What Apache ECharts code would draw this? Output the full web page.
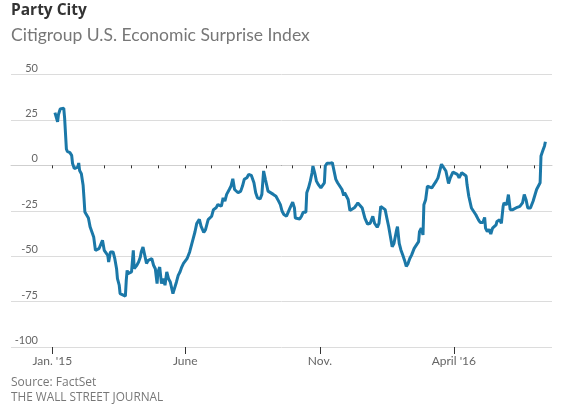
<!DOCTYPE html>
<html><head><meta charset="utf-8">
<script src="https://cdn.jsdelivr.net/npm/echarts@6/dist/echarts.min.js"></script>
<style>html,body{margin:0;padding:0;background:#fff}#c{width:561px;height:410px}</style>
</head><body><div id="c"></div>
<script>
const dates = [
'2015-01-04','2015-01-05','2015-01-07','2015-01-08','2015-01-10','2015-01-12','2015-01-14','2015-01-15','2015-01-17','2015-01-18',
'2015-01-21','2015-01-23','2015-01-24','2015-01-26','2015-01-28','2015-01-30','2015-01-31','2015-02-01','2015-02-03','2015-02-05',
'2015-02-06','2015-02-07','2015-02-09','2015-02-11','2015-02-13','2015-02-15','2015-02-17','2015-02-19','2015-02-20','2015-02-23',
'2015-02-25','2015-02-27','2015-03-01','2015-03-03','2015-03-05','2015-03-06','2015-03-08','2015-03-10','2015-03-11','2015-03-13',
'2015-03-15','2015-03-16','2015-03-18','2015-03-19','2015-03-21','2015-03-25','2015-03-26','2015-03-27','2015-03-28','2015-03-30',
'2015-04-01','2015-04-03','2015-04-04','2015-04-07','2015-04-09','2015-04-11','2015-04-12','2015-04-14','2015-04-16','2015-04-18',
'2015-04-20','2015-04-22','2015-04-24','2015-04-26','2015-04-28','2015-04-30','2015-05-01','2015-05-03','2015-05-05','2015-05-07',
'2015-05-09','2015-05-11','2015-05-13','2015-05-15','2015-05-17','2015-05-18','2015-05-20','2015-05-22','2015-05-24','2015-05-26',
'2015-05-28','2015-05-30','2015-06-03','2015-06-06','2015-06-10','2015-06-12','2015-06-14','2015-06-17','2015-06-19','2015-06-22',
'2015-06-24','2015-06-27','2015-07-01','2015-07-03','2015-07-06','2015-07-08','2015-07-10','2015-07-12','2015-07-14','2015-07-16',
'2015-07-18','2015-07-21','2015-07-23','2015-07-25','2015-07-27','2015-07-29','2015-07-31','2015-08-03','2015-08-05','2015-08-07',
'2015-08-10','2015-08-12','2015-08-13','2015-08-15','2015-08-18','2015-08-20','2015-08-22','2015-08-25','2015-08-27','2015-08-29',
'2015-08-31','2015-09-01','2015-09-03','2015-09-05','2015-09-09','2015-09-12','2015-09-15','2015-09-17','2015-09-19','2015-09-21',
'2015-09-24','2015-09-26','2015-09-28','2015-10-01','2015-10-03','2015-10-04','2015-10-06','2015-10-09','2015-10-11','2015-10-13',
'2015-10-15','2015-10-16','2015-10-17','2015-10-19','2015-10-21','2015-10-23','2015-10-24','2015-10-26','2015-10-28','2015-10-30',
'2015-11-02','2015-11-04','2015-11-06','2015-11-07','2015-11-09','2015-11-12','2015-11-14','2015-11-15','2015-11-17','2015-11-19',
'2015-11-21','2015-11-23','2015-11-26','2015-11-28','2015-11-29','2015-12-01','2015-12-03','2015-12-05','2015-12-07','2015-12-10',
'2015-12-12','2015-12-14','2015-12-16','2015-12-19','2015-12-22','2015-12-25','2015-12-28','2015-12-31','2016-01-02','2016-01-05',
'2016-01-07','2016-01-09','2016-01-11','2016-01-14','2016-01-16','2016-01-18','2016-01-20','2016-01-22','2016-01-24','2016-01-27',
'2016-01-28','2016-01-30','2016-02-01','2016-02-03','2016-02-05','2016-02-07','2016-02-09','2016-02-11','2016-02-13','2016-02-16',
'2016-02-18','2016-02-21','2016-02-22','2016-02-24','2016-02-26','2016-02-27','2016-02-29','2016-03-02','2016-03-04','2016-03-07',
'2016-03-09','2016-03-12','2016-03-14','2016-03-16','2016-03-18','2016-03-20','2016-03-23','2016-03-26','2016-03-28','2016-03-31',
'2016-04-02','2016-04-05','2016-04-07','2016-04-10','2016-04-12','2016-04-15','2016-04-16','2016-04-18','2016-04-21','2016-04-23',
'2016-04-26','2016-04-29','2016-05-01','2016-05-04','2016-05-06','2016-05-07','2016-05-09','2016-05-11','2016-05-13','2016-05-15',
'2016-05-17','2016-05-19','2016-05-20','2016-05-23','2016-05-25','2016-05-27','2016-05-28','2016-05-31','2016-06-02','2016-06-04',
'2016-06-07','2016-06-09','2016-06-12','2016-06-15','2016-06-18','2016-06-20','2016-06-22','2016-06-24','2016-06-27','2016-06-30',
'2016-07-02','2016-07-04','2016-07-06','2016-07-08','2016-07-09','2016-07-11','2016-07-13','2016-07-14'
];
const values = [
29,28,24,28,31,31.5,31.5,26,9,7.7,
7,5.5,1,-1.8,-2.8,-1,1.3,-2.8,-4.6,-11,
-18,-25.7,-26.6,-29,-34,-36.7,-39.4,-46.8,-47.7,-45.9,
-45,-41.3,-46.8,-47.7,-49.5,-53.2,-47.7,-46.8,-47.7,-51.4,
-56.9,-62.4,-66,-70.6,-71.6,-72,-63.3,-57.8,-59.6,-60.6,
-58.7,-46.8,-56.9,-55,-53.2,-50.5,-47.7,-45,-49.5,-54,
-52.3,-53.2,-51.4,-55,-56.9,-65.1,-58.7,-56,-65.1,-62.4,
-66,-58.7,-62.4,-64.2,-63.3,-70.6,-71.2,-64.2,-60.6,-58.7,
-56,-54,-51.4,-47.7,-40.4,-36.7,-32.1,-29.7,-33.6,-36.9,
-35.4,-29.9,-28,-24.4,-23.4,-21.6,-20.7,-22.5,-17.9,-19.7,
-16,-13.3,-11.4,-7.4,-13.3,-12.4,-15.1,-14.2,-11.4,-7.7,
-6.8,-5,-4.1,-5.5,-9.6,-15.1,-17.9,-18.5,-16,-3.1,
-7.7,-8.7,-14.2,-15.1,-16,-17,-19.7,-21.6,-25.3,-27.1,
-28,-27.1,-23.4,-20.3,-23.4,-29,-29.9,-29.5,-28,-25.8,
-24.7,-25.8,-15.1,-12.4,-8.7,-4.1,-0.4,-4.1,-8.7,-10.5,
-12.4,-12.9,-9.6,-0.4,1.1,1.1,0.4,1.5,1.1,-7.7,
-9.6,-10.5,-13.3,-16.6,-15.1,-14.2,-18.8,-24.9,-24.4,-23.4,
-22.1,-20.7,-21.2,-23.5,-29.1,-32.4,-31.9,-28.1,-31.9,-34.1,
-31.9,-22.6,-21.7,-24.4,-29.1,-33.7,-34.6,-44.8,-43,-35.6,
-33.7,-43,-46.7,-49.4,-52.2,-55.6,-54.1,-51.3,-49.4,-45.7,
-46.7,-42,-36.5,-34.6,-38.3,-21.7,-18.9,-11.5,-10.6,-12.4,
-12.4,-8.7,-6.9,-3.1,0.6,-0.4,-3.1,-10,-6.9,-3.7,
-4.4,-5,-6.9,-4.1,-3.5,-5.9,-10.6,-17,-23.5,-24.4,
-27.2,-30,-31.5,-31.5,-28.7,-34.6,-36.5,-35.2,-37.8,-34.6,
-34.6,-32.8,-30.9,-30,-31.9,-22.6,-20.7,-21.7,-16.1,-24.4,
-24.4,-24.1,-23.1,-22.6,-20.7,-16.1,-18.9,-23.5,-23.5,-19.8,
-18.9,-13.3,-13.3,-9.6,5.2,8,10.7,13
];
const yTicks = [-100, -75, -50, -25, 0, 25, 50];
const monthTicks = ['2015-01-01','2015-02-01','2015-03-01','2015-04-01','2015-05-01','2015-06-01','2015-07-01','2015-08-01','2015-09-01','2015-10-01','2015-11-01','2015-12-01','2016-01-01','2016-02-01','2016-03-01','2016-04-01','2016-05-01','2016-06-01','2016-07-01'];
const labelDates = ['2015-01-01','2015-06-01','2015-11-01','2016-04-01'];
const labelTexts = ["Jan. '15", 'June', 'Nov.', "April '16"];

function t(s){const p=s.split('-');return new Date(+p[0],+p[1]-1,+p[2]).getTime();}
const DAY = 86400000;
const x0 = t('2015-01-01');
const xMin = x0 - 46.9*DAY, xMax = x0 + 567.5*DAY;
const monthTimes = monthTicks.map(t);
const labelTimes = labelDates.map(t);
const seriesData = dates.map((d,i)=>[t(d), values[i]]);
const gridColors = yTicks.map(v => v === 0 ? '#000' : '#dcdcdc');

const chart = echarts.init(document.getElementById('c'));
chart.setOption({
  animation: false,
  textStyle: {fontFamily: 'Lato'},
  title: [
    {text: 'Party City', left: 11, top: 3, padding: 0, textStyle: {fontSize: 15.5, fontWeight: 'bold', color: '#333', fontFamily: 'Open Sans'}},
    {text: 'Citigroup U.S. Economic Surprise Index', left: 11, top: 26, padding: 0, textStyle: {fontSize: 17.5, fontWeight: 'normal', color: '#777', fontFamily: 'Lato'}},
    {text: 'Source: FactSet', left: 11, top: 377, padding: 0, textStyle: {fontSize: 12, fontWeight: 'normal', color: '#777', fontFamily: 'Open Sans'}},
    {text: 'THE WALL STREET JOURNAL', left: 11, top: 392, padding: 0, textStyle: {fontSize: 11.8, fontWeight: 'normal', color: '#777', fontFamily: 'Open Sans'}}
  ],
  grid: {left: 11, right: 9, top: 74.5, bottom: 63},
  xAxis: [{
    type: 'value', min: xMin, max: xMax,
    axisLine: {lineStyle: {color: '#cfcfcf', width: 1}},
    axisTick: {show: true, customValues: monthTimes, length: 3, lineStyle: {color: '#333', width: 1}},
    axisLabel: {customValues: labelTimes, margin: 8, fontSize: 12, color: '#666', fontFamily: 'Lato',
      formatter: function(v){ const i = labelTimes.indexOf(v); return i >= 0 ? labelTexts[i] : ''; }},
    splitLine: {show: false}
  }, {
    type: 'value', min: xMin, max: xMax, position: 'bottom',
    axisLine: {show: false},
    axisTick: {show: true, customValues: labelTimes, length: 7, lineStyle: {color: '#333', width: 1}},
    axisLabel: {show: false},
    splitLine: {show: false}
  }],
  yAxis: {
    type: 'value', min: -100, max: 50, interval: 25,
    axisLine: {show: false}, axisTick: {show: false},
    axisLabel: {inside: true, margin: 27, align: 'right', verticalAlign: 'bottom', fontSize: 11, color: '#666', fontFamily: 'Lato', padding: [0,0,1,0]},
    splitLine: {show: true, lineStyle: {color: gridColors, width: 1}}
  },
  series: [{
    type: 'line', data: seriesData, showSymbol: false, symbol: 'none',
    lineStyle: {width: 3, color: '#1b78a8'}, z: 5
  }]
});
</script>
</body></html>
